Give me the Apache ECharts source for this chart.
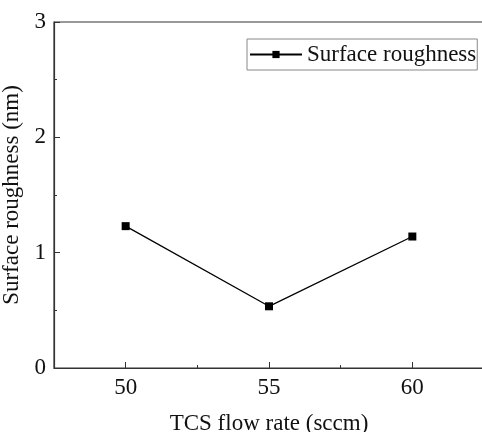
<!DOCTYPE html>
<html><head><meta charset="utf-8">
<script src="https://cdn.jsdelivr.net/npm/echarts@6/dist/echarts.min.js"></script>
<style>html,body{margin:0;padding:0;background:#fff}#c{width:482px;height:432px}</style>
</head><body><div id="c"></div>
<script>
const flowRates = [50, 55, 60];
const roughness = [1.23, 0.535, 1.14];
const xMajorTicks = [50, 55, 60];
const xMinorTicks = [52.5, 57.5];
const seriesName = 'Surface roughness';
const xTitle = 'TCS flow rate (sccm)';
const yTitle = 'Surface roughness (nm)';

const font = 'Liberation Serif';
const fs = 23;
const chart = echarts.init(document.getElementById('c'));
const axisCol = '#333';
chart.setOption({
  animation: false,
  grid: {left: 54, right: -2, top: 22, bottom: 64, show: true, borderColor: axisCol, borderWidth: 1.2,
         containLabel: false, outerBoundsMode: 'none'},
  legend: {
    left: 247, top: 39, orient: 'vertical',
    data: [seriesName],
    itemWidth: 52, itemHeight: 9, itemGap: 0,
    padding: [4, 1, 4, 2],
    borderColor: '#888', borderWidth: 1,
    textStyle: {fontFamily: font, fontSize: fs, color: '#111'}
  },
  xAxis: [{
    type: 'value', min: 47.5, max: 62.5, position: 'bottom',
    splitLine: {show: false},
    axisLine: {lineStyle: {color: axisCol, width: 1.2}},
    axisTick: {inside: true, length: 6, customValues: xMajorTicks, lineStyle: {color: axisCol}},
    axisLabel: {customValues: xMajorTicks, fontFamily: font, fontSize: fs, color: '#111', margin: 8},
    name: xTitle, nameLocation: 'middle', nameGap: 44,
    nameTextStyle: {fontFamily: font, fontSize: fs, color: '#111'}
  }, {
    type: 'value', min: 47.5, max: 62.5, position: 'bottom', offset: 0,
    splitLine: {show: false},
    axisLine: {show: false},
    axisTick: {inside: true, length: 3, customValues: xMinorTicks, lineStyle: {color: axisCol}},
    axisLabel: {show: false}
  }],
  yAxis: {
    type: 'value', min: 0, max: 3, interval: 1,
    splitLine: {show: false},
    axisLine: {show: true, lineStyle: {color: axisCol, width: 1.2}},
    axisTick: {show: true, inside: true, length: 6, lineStyle: {color: axisCol}},
    minorTick: {show: true, splitNumber: 2, length: 3, lineStyle: {color: axisCol}},
    axisLabel: {fontFamily: font, fontSize: fs, color: '#111', margin: 8},
    name: yTitle, nameLocation: 'middle', nameGap: 21,
    nameTextStyle: {fontFamily: font, fontSize: fs, color: '#111'}
  },
  series: [{
    name: seriesName, type: 'line', xAxisIndex: 0,
    data: flowRates.map((x, i) => [x, roughness[i]]),
    symbol: 'rect', symbolSize: 8,
    lineStyle: {color: '#000', width: 1.3},
    itemStyle: {color: '#000'}
  }]
});
</script></body></html>
